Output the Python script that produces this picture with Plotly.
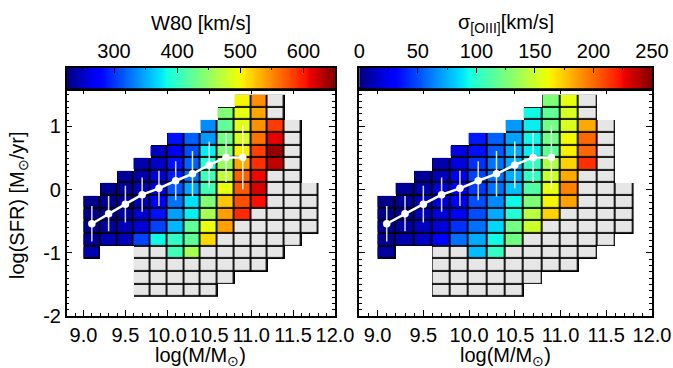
import numpy as np
import plotly.graph_objects as go

# ---------------- data ----------------
mass_bins = [9.1, 9.3, 9.5, 9.7, 9.9, 10.1, 10.3, 10.5, 10.7, 10.9, 11.1, 11.3, 11.5, 11.7]
sfr_bins = [1.4, 1.2, 1.0, 0.8, 0.6, 0.4, 0.2, 0.0, -0.2, -0.4, -0.6, -0.8, -1.0, -1.2, -1.4, -1.6]

N = None
w80_values = [
    [N, N, N, N, N, N, N, N, N, 501, 548, N, N, N],
    [N, N, N, N, N, N, N, N, 440, 493, 537, N, N, N],
    [N, N, N, N, N, N, N, 336, 423, 489, 547, 586, N, N],
    [N, N, N, N, N, 285, 318, 342, 432, 485, 561, 612, N, N],
    [N, N, N, N, 249, 266, 310, 378, 440, 504, 583, 641, N, N],
    [N, N, N, 240, 251, 285, 318, 391, 452, 536, 590, 626, N, N],
    [N, N, 234, 240, 257, 288, 325, 407, 473, 568, 609, N, N, N],
    [N, 231, 234, 243, 266, 314, 348, 407, 494, 572, 618, N, N, N],
    [228, 231, 234, 243, 274, 325, 372, 440, 522, 576, 605, N, N, N],
    [228, 231, 237, 255, 285, 345, 378, 460, 540, 594, N, N, N, N],
    [228, 237, 246, 257, 306, 355, 423, 494, 540, N, N, N, N, N],
    [231, 243, 246, 306, 382, 399, 423, 514, N, N, N, N, N, N],
    [243, N, N, N, N, 407, 460, N, N, N, N, N, N, N],
    [N] * 14,
    [N] * 14,
    [N] * 14,
]

sigma_values = [
    [N, N, N, N, N, N, N, N, N, 126, 158, N, N, N],
    [N, N, N, N, N, N, N, N, 93, 117, 153, N, N, N],
    [N, N, N, N, N, N, N, 69, 90, 122, 153, 183, N, N],
    [N, N, N, N, N, 37, 55, 71, 92, 122, 161, 200, N, N],
    [N, N, N, N, 21, 35, 53, 73, 90, 117, 164, 200, N, N],
    [N, N, N, 9, 21, 43, 59, 74, 103, 141, 172, 215, N, N],
    [N, N, 5, 12, 24, 47, 59, 74, 103, 149, 183, N, N, N],
    [N, 5, 9, 16, 29, 45, 59, 78, 112, 158, 193, N, N, N],
    [2, 5, 11, 18, 29, 50, 65, 92, 126, 163, 185, N, N, N],
    [2, 4, 12, 19, 31, 50, 73, 98, 143, 172, N, N, N, N],
    [4, 7, 14, 19, 43, 59, 84, 122, 149, N, N, N, N, N],
    [5, 9, 14, 29, 59, 73, 93, 122, N, N, N, N, N, N],
    [7, N, N, N, N, 78, 103, N, N, N, N, N, N, N],
    [N] * 14,
    [N] * 14,
    [N] * 14,
]

# bins with galaxies but no measurement (grey), column indices per SFR row
grey_bins = [
    [11], [11], [12], [12], [12], [12], [11, 12], [11, 12, 13], [11, 12, 13],
    [10, 11, 12, 13], [9, 10, 11, 12, 13], [8, 9, 10, 11, 12],
    [3, 4, 7, 8, 9, 10, 11], [3, 4, 5, 6, 7, 8, 9, 10], [3, 4, 5, 6, 7, 8], [3, 4, 5, 6, 7],
]

# median SFR in mass bins (white line)
ms_mass = [9.1, 9.3, 9.5, 9.7, 9.9, 10.1, 10.3, 10.5, 10.7, 10.9]
ms_sfr = [-0.54, -0.38, -0.23, -0.08, 0.02, 0.14, 0.25, 0.39, 0.51, 0.51]
ms_err = [0.28, 0.28, 0.29, 0.27, 0.28, 0.31, 0.36, 0.37, 0.39, 0.51]

mass_ticks = [9.0, 9.5, 10.0, 10.5, 11.0, 11.5, 12.0]
mass_ticktext = ["9.0", "9.5", "10.0", "10.5", "11.0", "11.5", "12.0"]
sfr_ticks = [-2, -1, 0, 1]
sfr_ticktext = ["-2", "-1", "0", "1"]
w80_range = [225, 650]
w80_cticks = [300, 400, 500, 600]
sigma_range = [0, 250]
sigma_cticks = [0, 50, 100, 150, 200, 250]

# ---------------- style / layout ----------------
W, H = 673, 368
FONT = dict(family="Liberation Sans, Arial, sans-serif", size=20, color="black")


def px_x(p):
    return p / W


def px_y(p):
    return (H - p) / H


left_px = (66.7, 335.0)
right_px = (359.3, 652.0)
plot_top, plot_bot = 88.5, 316.0
cb_top = 67.5

# matplotlib-like jet colour scale
knots = [0, 0.11, 0.125, 0.34, 0.35, 0.375, 0.64, 0.65, 0.66, 0.89, 0.91, 1.0]
rr = np.interp(knots, [0, 0.35, 0.66, 0.89, 1], [0, 0, 1, 1, 0.5])
gg = np.interp(knots, [0, 0.125, 0.375, 0.64, 0.91, 1], [0, 0, 1, 1, 0, 0])
bb = np.interp(knots, [0, 0.11, 0.34, 0.65, 1], [0.5, 1, 1, 0, 0])
jet = [[k, f"rgb({round(255*r)},{round(255*g)},{round(255*b)})"] for k, r, g, b in zip(knots, rr, gg, bb)]

grey_z = [[1 if c in grey_bins[r] else None for c in range(len(mass_bins))] for r in range(len(sfr_bins))]
occ_z = [[1 if (w80_values[r][c] is not None or grey_z[r][c] is not None) else None
          for c in range(len(mass_bins))] for r in range(len(sfr_bins))]

fig = go.Figure()
GAP = 1.8

panels = [
    ("x", "y", w80_values, w80_range),
    ("x2", "y2", sigma_values, sigma_range),
]
for xa, ya, vals, rng in panels:
    fig.add_trace(go.Heatmap(x=mass_bins, y=sfr_bins, z=occ_z, xaxis=xa, yaxis=ya,
                             colorscale=[[0, "black"], [1, "black"]], showscale=False,
                             hoverinfo="skip"))
    fig.add_trace(go.Heatmap(x=mass_bins, y=sfr_bins, z=grey_z, xaxis=xa, yaxis=ya,
                             colorscale=[[0, "#e6e6e6"], [1, "#e6e6e6"]], showscale=False,
                             xgap=GAP, ygap=GAP, hoverinfo="skip"))
    fig.add_trace(go.Heatmap(x=mass_bins, y=sfr_bins, z=vals, xaxis=xa, yaxis=ya,
                             colorscale=jet, zmin=rng[0], zmax=rng[1], showscale=False,
                             xgap=GAP, ygap=GAP))
    fig.add_trace(go.Scatter(x=ms_mass, y=ms_sfr, xaxis=xa, yaxis=ya, mode="lines+markers",
                             line=dict(color="white", width=2.5),
                             marker=dict(color="white", size=7.5),
                             error_y=dict(type="data", array=ms_err, color="rgba(255,255,255,0.85)",
                                          thickness=1.5, width=0),
                             showlegend=False))

# colour bars drawn on their own axes
for xa, ya, rng in [("x3", "y3", w80_range), ("x4", "y4", sigma_range)]:
    grad = np.linspace(rng[0], rng[1], 300)
    fig.add_trace(go.Heatmap(x=grad, y=[0.5], z=[grad], xaxis=xa, yaxis=ya, colorscale=jet,
                             zmin=rng[0], zmax=rng[1], showscale=False, hoverinfo="skip"))

main_ax = dict(showline=True, linecolor="black", linewidth=1.5, mirror="allticks",
               ticks="inside", ticklen=6, tickwidth=1.2, tickcolor="black",
               showgrid=False, zeroline=False, tickfont=FONT, automargin=False, tickangle=0)
cb_ax = dict(showline=True, linecolor="black", linewidth=1.5, mirror=True,
             showgrid=False, zeroline=False, automargin=False)

xdom_l = [px_x(left_px[0]), px_x(left_px[1])]
xdom_r = [px_x(right_px[0]), px_x(right_px[1])]
ydom = [px_y(plot_bot), px_y(plot_top)]
ydom_cb = [px_y(plot_top), px_y(cb_top)]
minor_y = dict(ticks="inside", ticklen=3, tickcolor="black", tick0=0, dtick=0.1)
minor_x = dict(ticks="inside", ticklen=3, tickcolor="black", tick0=0, dtick=0.1)

fig.update_layout(
    width=W, height=H, margin=dict(l=0, r=0, t=0, b=0), autosize=False,
    paper_bgcolor="white", plot_bgcolor="white", showlegend=False, font=FONT,
    xaxis=dict(main_ax, domain=xdom_l, range=[8.8, 12.0], anchor="y",
               tickmode="array", tickvals=mass_ticks, ticktext=mass_ticktext, minor=minor_x),
    yaxis=dict(main_ax, domain=ydom, range=[-2, 1.6], anchor="x",
               tickmode="array", tickvals=sfr_ticks, ticktext=sfr_ticktext, minor=minor_y),
    xaxis2=dict(main_ax, domain=xdom_r, range=[8.8, 12.0], anchor="y2",
                tickmode="array", tickvals=mass_ticks, ticktext=mass_ticktext, minor=minor_x),
    yaxis2=dict(main_ax, domain=ydom, range=[-2, 1.6], anchor="x2", showticklabels=False,
                tickmode="array", tickvals=sfr_ticks, minor=minor_y),
    xaxis3=dict(cb_ax, domain=xdom_l, range=w80_range, anchor="y3", side="top",
                ticks="inside", ticklen=6, tickcolor="black", tickmode="array",
                tickvals=w80_cticks, tickfont=FONT, tickangle=0,
                minor=dict(ticks="inside", ticklen=3, tickcolor="black", tick0=0, dtick=50)),
    yaxis3=dict(cb_ax, domain=ydom_cb, range=[0, 1], anchor="x3", showticklabels=False, ticks=""),
    xaxis4=dict(cb_ax, domain=xdom_r, range=sigma_range, anchor="y4", side="top",
                ticks="inside", ticklen=6, tickcolor="black", tickmode="array",
                tickvals=sigma_cticks, tickfont=FONT, tickangle=0,
                minor=dict(ticks="inside", ticklen=3, tickcolor="black", tick0=0, dtick=25)),
    yaxis4=dict(cb_ax, domain=ydom_cb, range=[0, 1], anchor="x4", showticklabels=False, ticks=""),
)

ann = [
    dict(text="W80 [km/s]", x=px_x(sum(left_px) / 2), y=px_y(23)),
    dict(text="σ<sub>[OIII]</sub>[km/s]", x=px_x(sum(right_px) / 2), y=px_y(23)),
    dict(text="log(M/M<sub>⊙</sub>)", x=px_x(sum(left_px) / 2), y=px_y(356)),
    dict(text="log(M/M<sub>⊙</sub>)", x=px_x(sum(right_px) / 2), y=px_y(356)),
    dict(text="log(SFR) [M<sub>⊙</sub>/yr]", x=px_x(18), y=px_y(205), textangle=-90),
]
for a in ann:
    fig.add_annotation(xref="paper", yref="paper", xanchor="center", yanchor="middle",
                       showarrow=False, font=FONT, **a)

fig.write_html("out.html", config={"displayModeBar": False},
               post_script="document.body.style.margin='0';document.body.style.overflow='hidden';")
